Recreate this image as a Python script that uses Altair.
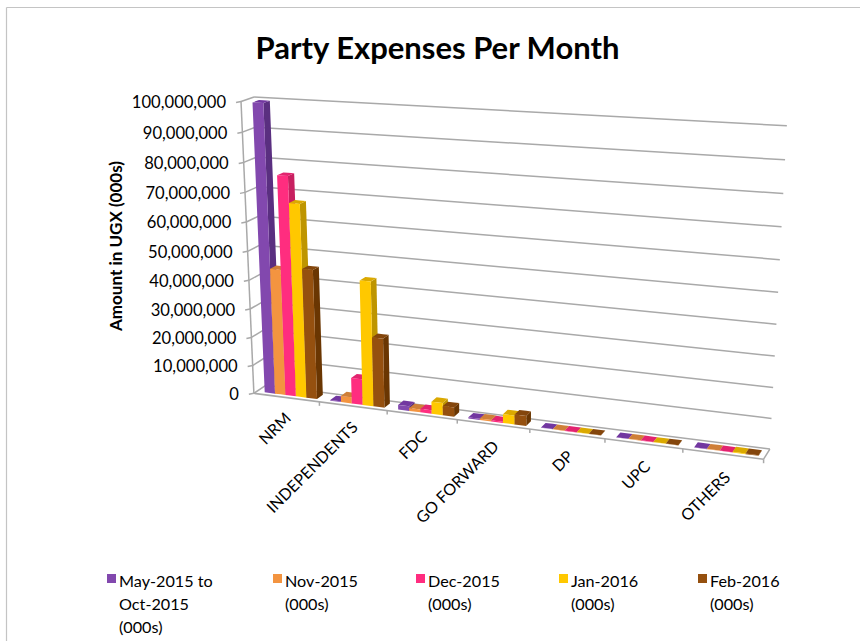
import altair as alt
import numpy as np
import pandas as pd

# Party spending, millions of UGX (thousands), one list per reporting period.
categories = ["NRM", "INDEPENDENTS", "FDC", "GO FORWARD", "DP", "UPC", "OTHERS"]
series_names = ["May-2015 to Oct-2015 (000s)", "Nov-2015 (000s)", "Dec-2015 (000s)", "Jan-2016 (000s)", "Feb-2016 (000s)"]
may_oct = [99.5, 0.3, 1.6, 0.4, 0.1, 0.1, 0.1]
nov = [44.0, 2.2, 1.0, 0.5, 0.1, 0.1, 0.1]
dec = [76.0, 9.0, 1.2, 0.4, 0.1, 0.1, 0.1]
jan = [67.0, 43.0, 4.2, 3.0, 0.1, 0.1, 0.2]
feb = [45.0, 24.0, 3.2, 3.4, 0.1, 0.1, 0.2]
series_values = [may_oct, nov, dec, jan, feb]
tick_values = list(range(0, 101, 10))
tick_labels = [f"{v * 1000000:,}" for v in tick_values]
legend_lines = [["May-2015 to", "Oct-2015", "(000s)"], ["Nov-2015", "(000s)"], ["Dec-2015", "(000s)"], ["Jan-2016", "(000s)"], ["Feb-2016", "(000s)"]]

FRONT = ["#8248AE", "#F39440", "#FF2D7F", "#FFC800", "#95500F"]
SIDE = ["#5A2F80", "#BD7030", "#C72060", "#BE9500", "#6A3602"]
TOP = ["#7237A0", "#CF7F38", "#E2246F", "#DBA900", "#84460C"]
GRID = "#a9a9a9"
FONT = "Lato"

# Camera calibration: (category, value, depth) -> canvas position.
calibration = [
    (0, 0, 0, 255, 393), (1, 0, 0, 320, 402), (2, 0, 0, 387, 410), (3, 0, 0, 458, 420),
    (4, 0, 0, 529, 430), (5, 0, 0, 604, 439), (6, 0, 0, 683, 449), (7, 0, 0, 764, 459),
    (0, 50, 0, 247.5, 250), (0, 100, 0, 240, 102),
    (0, 100, 1, 255, 97), (0, 0, 1, 265, 386), (7, 100, 1, 787, 126), (7, 0, 1, 770, 448),
]
A, b = [], []
for u, v, d, px, py in calibration:
    A.append([u, v, d, 1, 0, 0, 0, 0, -px * u, -px * v, -px * d])
    b.append(px)
    A.append([0, 0, 0, 0, u, v, d, 1, -py * u, -py * v, -py * d])
    b.append(py)
cam = np.linalg.lstsq(np.array(A, float), np.array(b, float), rcond=None)[0]


def project(u, v, d):
    w = cam[8] * u + cam[9] * v + cam[10] * d + 1
    return ((cam[0] * u + cam[1] * v + cam[2] * d + cam[3]) / w,
            (cam[4] * u + cam[5] * v + cam[6] * d + cam[7]) / w)


def quad_rows(points, color, poly):
    """Upper and lower outline of a convex quad, as rows for an area mark."""
    rows = []
    for x in sorted({round(p[0], 3) for p in points}):
        ys = []
        for i in range(len(points)):
            (x0, y0), (x1, y1) = points[i], points[(i + 1) % len(points)]
            x0r, x1r = round(x0, 3), round(x1, 3)
            if min(x0r, x1r) <= x <= max(x0r, x1r):
                if x0r == x1r:
                    ys += [y0, y1]
                else:
                    ys.append(y0 + (y1 - y0) * (x - x0r) / (x1r - x0r))
        rows.append({"x": x, "y": min(ys), "y2": max(ys), "color": color, "poly": poly})
    return rows


BAR_START, BAR_WIDTH = 0.12, 0.16
DEPTH_FRONT, DEPTH_BACK = 0.25, 0.75

faces = []
poly = 0
for c in range(len(categories)):
    for s, values in enumerate(series_values):
        v = values[c]
        u0 = c + BAR_START + s * BAR_WIDTH
        u1 = u0 + BAR_WIDTH
        side = [project(u1, 0, DEPTH_FRONT), project(u1, 0, DEPTH_BACK), project(u1, v, DEPTH_BACK), project(u1, v, DEPTH_FRONT)]
        top = [project(u0, v, DEPTH_FRONT), project(u1, v, DEPTH_FRONT), project(u1, v, DEPTH_BACK), project(u0, v, DEPTH_BACK)]
        front = [project(u0, 0, DEPTH_FRONT), project(u1, 0, DEPTH_FRONT), project(u1, v, DEPTH_FRONT), project(u0, v, DEPTH_FRONT)]
        for quad, col in ((side, SIDE[s]), (top, TOP[s]), (front, FRONT[s])):
            faces += quad_rows(quad, col, poly)
            poly += 1

n = len(categories)
segments = []


def segment(p, q, color=GRID, width=1.5):
    segments.append({"x": p[0], "y": p[1], "x2": q[0], "y2": q[1], "color": color, "width": width})


for v in tick_values:
    segment(project(0, v, 0), project(0, v, 1))
    segment(project(0, v, 1), project(n, v, 1))
    fx, fy = project(0, v, 0)
    segment((fx - 5, fy + 1), (fx, fy))
segment(project(0, 0, 0), project(0, 100, 0))
segment(project(0, 0, 0), project(n, 0, 0))
segment(project(n, 0, 0), project(n, 0, 1))
for c in range(1, n + 1):
    tx, ty = project(c, 0, 0)
    segment((tx, ty), (tx, ty + 4))
# Slide frame
segment((6.5, 7.5), (860, 7.5), "#c4c4c4", 1.2)
segment((6.5, 7.5), (6.5, 641), "#c4c4c4", 1.2)

tick_text = [{"x": project(0, v, 0)[0] - 15, "y": project(0, v, 0)[1] + 1.5, "text": t} for v, t in zip(tick_values, tick_labels)]
cat_text = []
for c, name in enumerate(categories):
    tx, ty = project(c + 1, 0, 0)
    cat_text.append({"x": tx - 31 - 0.8 * c, "y": ty + 14 + 0.3 * c, "text": name})

legend_x = [107, 273, 416, 559, 698]
legend_swatch = pd.DataFrame({"x": [x + 4.5 for x in legend_x], "y": [578.5] * 5, "color": FRONT})
legend_text = []
for x, lines in zip(legend_x, legend_lines):
    for i, line in enumerate(lines):
        legend_text.append({"x": x + 12, "y": 582 + i * 23, "text": line})

X = alt.X("x:Q", scale=alt.Scale(domain=[0, 860], range=[0, 860], nice=False, zero=False), axis=None)
Y = alt.Y("y:Q", scale=alt.Scale(domain=[0, 641], range=[0, 641], nice=False, zero=False), axis=None)

rules = alt.Chart(pd.DataFrame(segments)).mark_rule().encode(
    x=X, y=Y, x2="x2:Q", y2="y2:Q",
    color=alt.Color("color:N", scale=None),
    strokeWidth=alt.StrokeWidth("width:Q", scale=None),
)
bars = alt.Chart(pd.DataFrame(faces)).mark_area(interpolate="linear").encode(
    x=X, y=alt.Y("y:Q", scale=alt.Scale(domain=[0, 641], range=[0, 641], nice=False, zero=False), axis=None, stack=None),
    y2="y2:Q",
    color=alt.Color("color:N", scale=None),
    detail="poly:N",
)
ticks = alt.Chart(pd.DataFrame(tick_text)).mark_text(align="right", baseline="middle", font=FONT, fontSize=16.6, color="#000").encode(x=X, y=Y, text="text:N")
cats = alt.Chart(pd.DataFrame(cat_text)).mark_text(align="right", baseline="middle", font=FONT, fontSize=16, angle=315, color="#000").encode(x=X, y=Y, text="text:N")
swatches = alt.Chart(legend_swatch).mark_square(size=81, opacity=1, filled=True).encode(x=X, y=Y, color=alt.Color("color:N", scale=None))
legend_labels = alt.Chart(pd.DataFrame(legend_text)).mark_text(align="left", baseline="middle", font=FONT, fontSize=16.2, color="#000").encode(x=X, y=Y, text="text:N")
title = alt.Chart(pd.DataFrame([{"x": 437.5, "y": 50, "text": "Party Expenses Per Month"}])).mark_text(align="center", baseline="middle", font=FONT, fontSize=31, fontWeight="bold", color="#000").encode(x=X, y=Y, text="text:N")
y_title = alt.Chart(pd.DataFrame([{"x": 117, "y": 246, "text": "Amount in UGX (000s)"}])).mark_text(align="center", baseline="middle", font=FONT, fontSize=17, fontWeight="bold", angle=270, color="#000").encode(x=X, y=Y, text="text:N")

chart = alt.layer(rules, bars, ticks, cats, swatches, legend_labels, title, y_title).properties(
    width=860, height=641, padding=0, background="white",
    autosize=alt.AutoSizeParams(type="none"),
).configure_view(stroke=None)

chart.save("out.html", embed_options={"renderer": "svg", "actions": False})
